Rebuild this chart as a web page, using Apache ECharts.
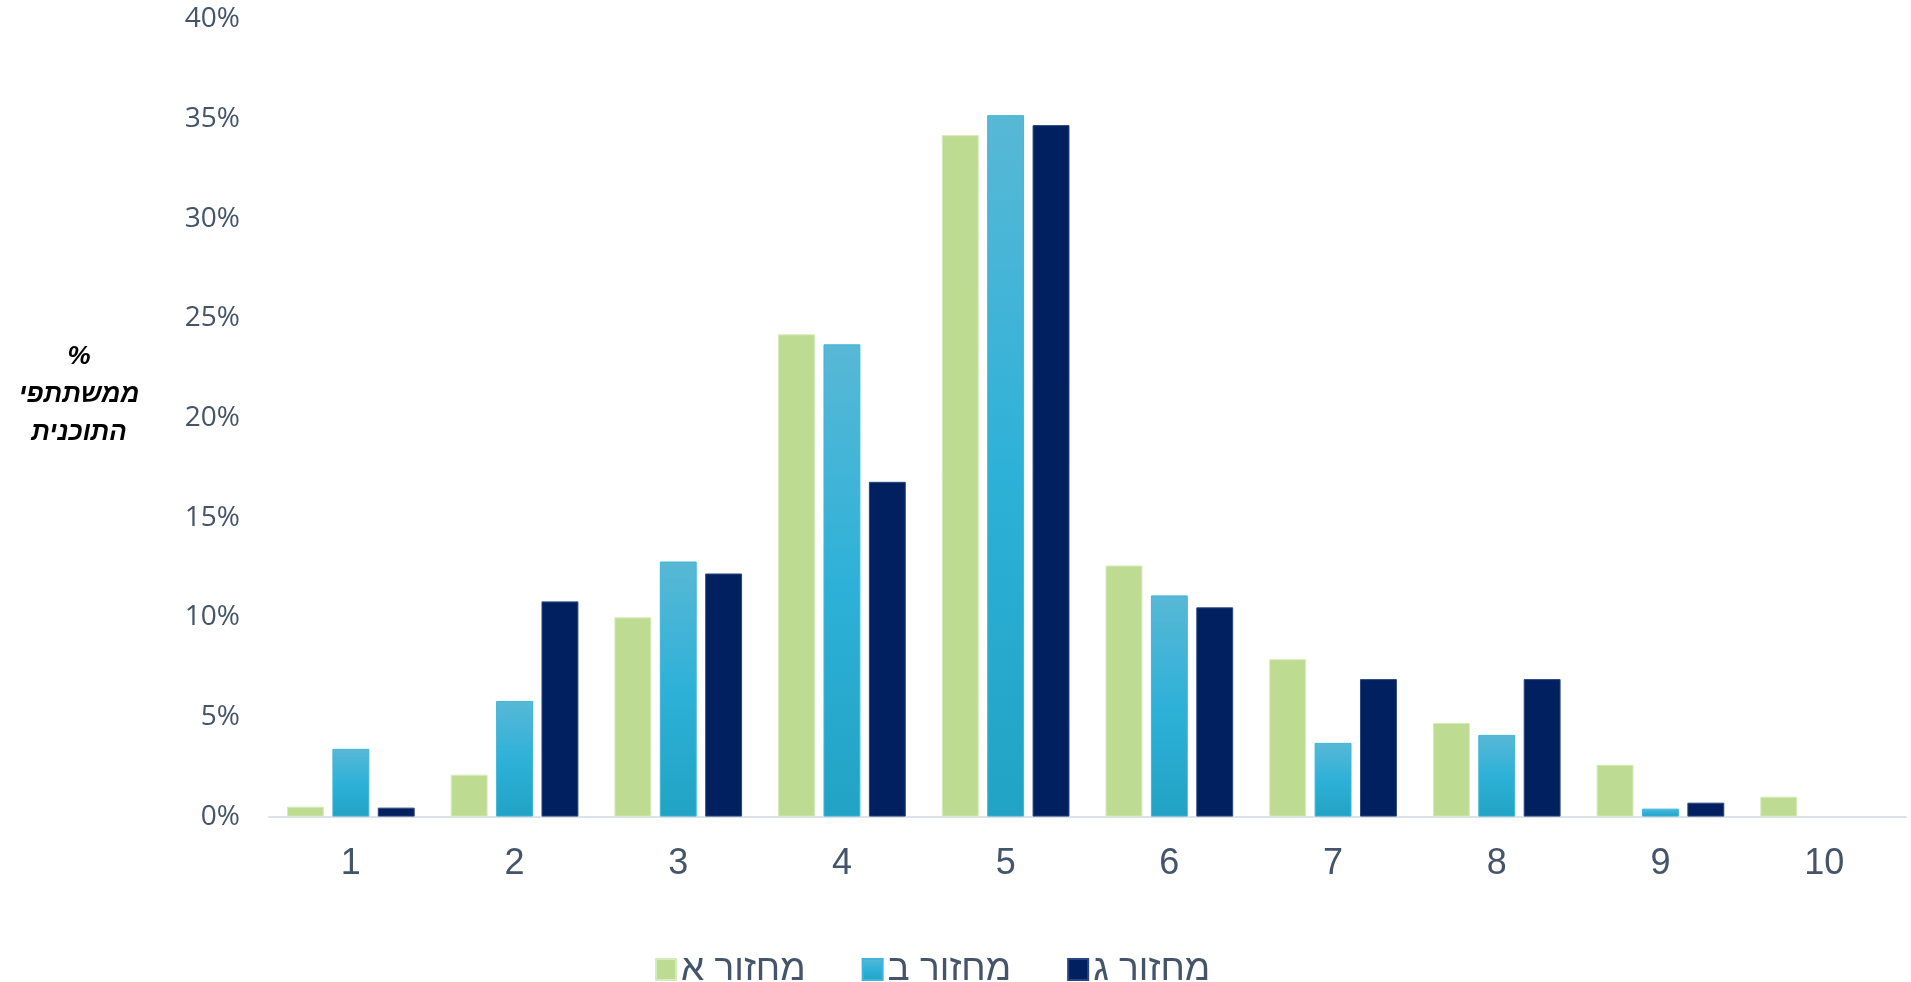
<!DOCTYPE html>
<html>
<head>
<meta charset="utf-8">
<script src="https://cdn.jsdelivr.net/npm/echarts@6/dist/echarts.min.js"></script>
<style>
html,body{margin:0;padding:0;background:#fff;}
#chart{width:1911px;height:982px;}
</style>
</head>
<body>
<div id="chart"></div>
<script>
const categories = ['1','2','3','4','5','6','7','8','9','10'];
const seriesNames = ['מחזור א','מחזור ב','מחזור ג'];
const cycleA = [0.5, 2.1, 10.0, 24.2, 34.2, 12.6, 7.9, 4.7, 2.6, 1.0];
const cycleB = [3.4, 5.8, 12.8, 23.7, 35.2, 11.1, 3.7, 4.1, 0.4, null];
const cycleC = [0.45, 10.8, 12.2, 16.8, 34.7, 10.5, 6.9, 6.9, 0.7, null];
const yTitle = '%\nממשתתפי\nהתוכנית';

const chart = echarts.init(document.getElementById('chart'), null, {renderer:'canvas'});
const textColor = '#44546a';
const blueGrad = new echarts.graphic.LinearGradient(0,0,0,1,[
  {offset:0,color:'#58b8d6'},
  {offset:0.5,color:'#2eb1d8'},
  {offset:1,color:'#21a3c5'}
]);
chart.setOption({
  animation:false,
  backgroundColor:'#ffffff',
  grid:{left:269,right:5,top:19.5,bottom:165.4,containLabel:false},
  legend:{
    left:650, top:946,
    itemWidth:20, itemHeight:21, itemGap:56,
    icon:'rect',
    textStyle:{color:textColor,fontSize:37,fontFamily:'Liberation Sans'},
    data:seriesNames
  },
  xAxis:{
    type:'category', data:categories,
    axisLine:{lineStyle:{color:'#dde2e8',width:2}},
    axisTick:{show:false},
    axisLabel:{color:textColor,fontSize:36,fontFamily:'Liberation Sans',margin:29}
  },
  yAxis:{
    type:'value', min:0, max:40, interval:5,
    splitLine:{show:false},
    axisLine:{show:false}, axisTick:{show:false},
    axisLabel:{color:textColor,fontSize:28,fontFamily:'Open Sans',margin:29,formatter:'{value}%'}
  },
  graphic:[{
    type:'text', x:79, y:395,
    style:{text:yTitle,fill:'#000',font:'italic bold 26px "Liberation Sans"',
      textAlign:'center',textVerticalAlign:'middle',lineHeight:38}
  }],
  series:[
    {name:seriesNames[0],type:'bar',data:cycleA,barGap:'23%',barCategoryGap:'22%',
      itemStyle:{color:'#bddc91',borderColor:'#d6ebbb',borderWidth:1}},
    {name:seriesNames[1],type:'bar',data:cycleB,
      itemStyle:{color:blueGrad,borderColor:'#3fb6d8',borderWidth:1}},
    {name:seriesNames[2],type:'bar',data:cycleC,
      itemStyle:{color:'#002060',borderColor:'#2a4680',borderWidth:1}}
  ]
});
</script>
</body>
</html>
